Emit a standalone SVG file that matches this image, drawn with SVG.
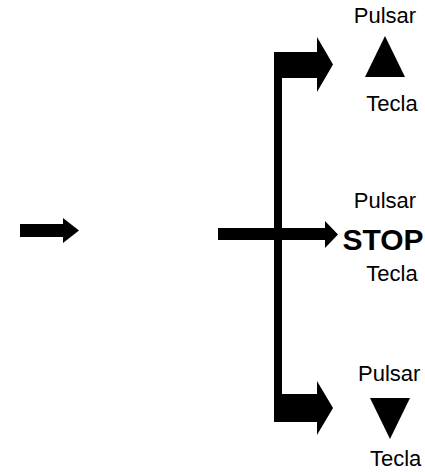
<svg xmlns="http://www.w3.org/2000/svg" width="425" height="472" viewBox="0 0 425 472">
<style>
.t{font-family:"Liberation Sans",Arial,sans-serif;font-size:22px;fill:#000}
.b{font-family:"Liberation Sans",Arial,sans-serif;font-size:30px;font-weight:bold;fill:#000}
.s{fill:#000;stroke:none}
</style>
<rect width="425" height="472" fill="#fff"/>
<g id="connectors">
<path class="s" d="M20,224 H63 V218 L79,230.5 L63,243 V237 H20 Z"/>
<rect class="s" x="274" y="52" width="8" height="370"/>
<path class="s" d="M218,228 H325 V221 L338,234.5 L325,248 V240 H218 Z"/>
<path class="s" d="M274,52 H317 V37 L333,64.5 L317,92 V78 H274 Z"/>
<path class="s" d="M274,394 H317 V381 L333,408 L317,435 V422 H274 Z"/>
</g>
<g id="key-up">
<text class="t" x="385" y="23" text-anchor="middle">Pulsar</text>
<polygon class="s" points="365,77 385,36 405,77"/>
<text class="t" x="392" y="111" text-anchor="middle">Tecla</text>
</g>
<g id="key-stop">
<text class="t" x="385" y="208" text-anchor="middle">Pulsar</text>
<text class="b" x="383" y="250" text-anchor="middle">STOP</text>
<text class="t" x="392" y="281" text-anchor="middle">Tecla</text>
</g>
<g id="key-down">
<text class="t" x="358" y="381">Pulsar</text>
<polygon class="s" points="370,398 410,398 390,439"/>
<text class="t" x="370" y="466">Tecla</text>
</g>
</svg>
